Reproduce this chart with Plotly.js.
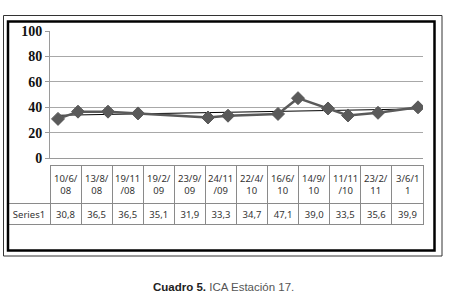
<!DOCTYPE html>
<html>
<head>
<meta charset="utf-8">
<script src="https://cdn.plot.ly/plotly-3.0.1.min.js"></script>
<style>html,body{margin:0;padding:0;background:#fff;}#chart{width:450px;height:302px;}</style>
</head>
<body>
<div id="chart"></div>
<script>
// ---- data ----
var dates = ["10/6/08","13/8/08","19/11/08","19/2/09","23/9/09","24/11/09","22/4/10","16/6/10","14/9/10","11/11/10","23/2/11","3/6/11"];
var headerLabels = ["10/6/<br>08","13/8/<br>08","19/11<br>/08","19/2/<br>09","23/9/<br>09","24/11<br>/09","22/4/<br>10","16/6/<br>10","14/9/<br>10","11/11<br>/10","23/2/<br>11","3/6/1<br>1"];
var seriesName = "Series1";
var values = [30.8,36.5,36.5,35.1,31.9,33.3,34.7,47.1,39.0,33.5,35.6,39.9];
var valueLabels = ["30,8","36,5","36,5","35,1","31,9","33,3","34,7","47,1","39,0","33,5","35,6","39,9"];
var yTicks = [0,20,40,60,80,100];

// month index (Excel date axis with monthly base unit)
function monthIndex(s){var p=s.split("/");return (2000+parseInt(p[2],10))*12+parseInt(p[1],10)-1;}
var m0 = monthIndex(dates[0]);
var xs = dates.map(function(d){return monthIndex(d)-m0;});

// linear trendline (least squares from the data)
var n=xs.length, sx=0, sy=0, sxx=0, sxy=0;
for(var i=0;i<n;i++){sx+=xs[i];sy+=values[i];sxx+=xs[i]*xs[i];sxy+=xs[i]*values[i];}
var slope=(n*sxy-sx*sy)/(n*sxx-sx*sx), icpt=(sy-slope*sx)/n;
var tx=[xs[0],xs[n-1]], ty=[icpt+slope*xs[0], icpt+slope*xs[n-1]];

// layout geometry
var W=450,H=302,ML=8,MR=27,MT=31,MB=72;
var PW=W-ML-MR, PH=H-MT-MB;
function px(x){return (x-ML)/PW;}
function py(y){return (H-MB-y)/PH;}

var grey="#5a5a5a";
var ncol = dates.length+1;
var centers=[]; for(var k=0;k<ncol;k++) centers.push("center");
var traces=[
 {x:tx,y:ty,type:"scatter",mode:"lines",line:{color:"#000",width:1},hoverinfo:"skip",showlegend:false},
 {x:xs,y:values,type:"scatter",mode:"lines+markers",line:{color:grey,width:2.5},
  marker:{symbol:"diamond",size:10,color:grey,line:{color:grey,width:1}},showlegend:false},
 // invisible trace to establish the category axis used for the table header labels
 {x:dates,y:values,xaxis:"x2",yaxis:"y",type:"scatter",mode:"markers",marker:{opacity:0},hoverinfo:"skip",showlegend:false},
 {type:"table",domain:{x:[0,1],y:[0,py(165)]},
  columnwidth:[42].concat(dates.map(function(){return 31.08;})),
  header:{values:[""].concat(dates.map(function(){return "";})),height:38,align:centers,
   font:{family:"Noto Sans",size:9,color:"#333"},
   line:{color:["rgba(0,0,0,0)"].concat(dates.map(function(){return "#8a8a8a";})),width:1},
   fill:{color:"#fff"}},
  cells:{values:[[seriesName]].concat(valueLabels.map(function(v){return [v];})),height:21,align:centers,
   font:{family:"Noto Sans",size:9.5,color:"#333"},
   line:{color:"#8a8a8a",width:1},fill:{color:"#fff"}}}
];

var annotations = dates.map(function(d,i){
 return {xref:"x2",yref:"paper",x:d,y:py(184),xanchor:"center",yanchor:"middle",showarrow:false,
  text:headerLabels[i],font:{family:"Noto Sans",size:9.5,color:"#333"}};
});
annotations.push({xref:"paper",yref:"paper",x:px(223),y:py(287),xanchor:"center",yanchor:"middle",showarrow:false,
   text:"<b>Cuadro 5.</b> <span style=\"color:#555\">ICA Estación 17.</span>",
   font:{family:"Liberation Sans",size:11.5,color:"#222"}});

var layout={
 width:W,height:H,margin:{l:ML,r:MR,t:MT,b:MB,pad:0},
 paper_bgcolor:"#fff",plot_bgcolor:"#fff",showlegend:false,
 xaxis:{domain:[px(50),1],range:[-0.8,36.5],showgrid:false,zeroline:false,showticklabels:false,
  showline:true,linecolor:"#9a9a9a",linewidth:1,ticks:""},
 xaxis2:{domain:[px(50),1],type:"category",range:[-0.5,dates.length-0.5],overlaying:"x",anchor:"y",
  visible:false,showgrid:false,zeroline:false},
 yaxis:{domain:[py(158),1],range:[0,100],tickvals:yTicks,showgrid:true,gridcolor:"#a8a8a8",gridwidth:1.3,
  zeroline:false,showline:true,linecolor:"#9a9a9a",linewidth:1,ticks:"outside",ticklen:4,tickcolor:"#9a9a9a",
  tickfont:{family:"Liberation Serif",size:14,color:"#111",weight:"bold"}},
 shapes:[
  {type:"rect",xref:"paper",yref:"paper",x0:px(3.5),x1:px(442),y0:py(15.5),y1:py(256),line:{color:"#333",width:1}},
  {type:"rect",xref:"paper",yref:"paper",x0:px(8),x1:px(434.5),y0:py(21.5),y1:py(250.5),line:{color:"#000",width:2.5}}
 ],
 annotations:annotations
};
Plotly.newPlot("chart",traces,layout,{displayModeBar:false,staticPlot:true});
</script>
</body>
</html>
